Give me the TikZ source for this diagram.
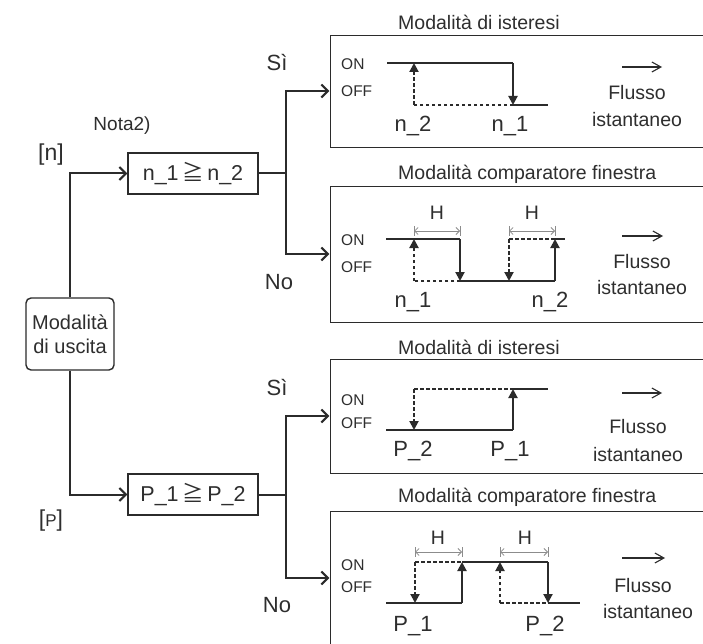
\documentclass[tikz,border=0pt]{standalone}
\usepackage{fontspec}
\setmainfont{Liberation Sans}
\newfontfamily\cjk{Noto Sans CJK JP}
\usetikzlibrary{arrows.meta}
\definecolor{ink}{HTML}{2B2B2B}
\definecolor{txt}{HTML}{2E2E2E}
\definecolor{dimc}{HTML}{8C8C8C}
\begin{document}
\begin{tikzpicture}[x=1pt,y=-1pt,
  flow/.style={draw=ink,line width=2pt},
  farrow/.style={-{Straight Barb[length=6.5pt,width=13pt,line width=2pt]}},
  panel/.style={draw=ink,line width=1.4pt,rectangle,inner sep=0pt,anchor=north west,minimum width=420pt},
  cond/.style={draw=ink,line width=1.4pt,rectangle,minimum width=130pt,minimum height=41pt,inner sep=0pt,text=txt,font=\fontsize{21.5}{24}\selectfont},
  modebox/.style={draw=ink,line width=1.4pt,rectangle,rounded corners=5pt,minimum width=88pt,minimum height=72pt,inner sep=0pt,align=center,text=txt,font=\fontsize{20}{23.5}\selectfont},
  sig/.style={draw=ink,line width=2pt},
  sigd/.style={sig,dash pattern=on 3.5pt off 2.5pt},
  tip/.style={-{Triangle[length=9pt,width=9pt]}},
  dimline/.style={draw=dimc,line width=0.8pt,{Straight Barb[length=3.5pt,width=7pt]}-{Straight Barb[length=3.5pt,width=7pt]}},
  tick/.style={draw=dimc,line width=0.8pt},
  flux/.style={draw=ink,line width=1.1pt,-{Straight Barb[length=9pt,width=10pt,line width=1.1pt]}},
  lbl/.style={inner sep=0pt,text=txt,font=\fontsize{22}{25}\selectfont},
  ttl/.style={inner sep=0pt,text=txt,anchor=west,font=\fontsize{19.5}{22}\selectfont},
  onoff/.style={inner sep=0pt,text=txt,anchor=west,font=\fontsize{15.5}{17}\selectfont},
  flab/.style={inner sep=0pt,text=txt,font=\fontsize{19.5}{22}\selectfont}
]
\useasboundingbox (0,0) rectangle (703,644);
\clip (0,0) rectangle (703,644);
\fill[white] (0,0) rectangle (703,644);

% panels
\node[panel,minimum height=112pt] (p1) at (330,35) {};
\node[panel,minimum height=136pt] (p2) at (330,186) {};
\node[panel,minimum height=114pt] (p3) at (330,359) {};
\node[panel,minimum height=160pt] (p4) at (330,511) {};

% titles
\node[ttl] (t1) at (398,22) {Modalità di isteresi};
\node[ttl] (t2) at (398,174) {Modalità comparatore finestra};
\node[ttl] (t3) at (398,347) {Modalità di isteresi};
\node[ttl] (t4) at (398,497) {Modalità comparatore finestra};

% flowchart
\node[modebox] (mode) at (70,334) {Modalità\\di uscita};
\node[cond] (nbox) at (193,173.5) {n\_1\,{\cjk ≧}\,n\_2};
\node[cond] (pbox) at (193,494.5) {P\_1\,{\cjk ≧}\,P\_2};
\coordinate (p1in) at (329.3,91);
\coordinate (p2in) at (329.3,254);
\coordinate (p3in) at (329.3,416);
\coordinate (p4in) at (329.3,578);
\draw[flow,farrow] (mode.north) |- (nbox.west);
\draw[flow,farrow] (mode.south) |- (pbox.west);
\draw[flow] (nbox.east) -- ++(27,0) coordinate (ns);
\draw[flow] (pbox.east) -- ++(27,0) coordinate (ps);
\draw[flow,farrow] (ns) |- (p1in);
\draw[flow,farrow] (ns) |- (p2in);
\draw[flow,farrow] (ps) |- (p3in);
\draw[flow,farrow] (ps) |- (p4in);

\node[lbl,font=\fontsize{19}{22}\selectfont] (nota) at (122,126) {Nota2)};
\node[lbl,font=\fontsize{23}{26}\selectfont] (lbn) at (51,155) {[n]};
\node[lbl,font=\fontsize{23}{26}\selectfont] (lbp) at (51,521) {[{\fontsize{17}{19}\selectfont P}]};
\node[lbl] (si1) at (277,63) {Sì};
\node[lbl] (no1) at (279,282) {No};
\node[lbl] (si2) at (277,388) {Sì};
\node[lbl] (no2) at (277,605) {No};

% ---- panel 1: hysteresis n
\node[onoff] (on1) at (341,64) {ON};
\node[onoff] (off1) at (341,91) {OFF};
\draw[sig] (387,63) -- (513,63);
\draw[sigd] (513,105) -- (414,105);
\draw[sigd,tip] (414,105) -- (414,63);
\draw[sig,tip] (513,63) -- (513,105);
\draw[sig] (513,105) -- (548,105);
\node[lbl] (a1) at (413,126) {n\_2};
\node[lbl] (b1) at (510,126) {n\_1};
\draw[flux] (622,67) -- (662,67);
\node[flab] (f1) at (637,93) {Flusso};
\node[flab] (i1) at (637,120) {istantaneo};

% ---- panel 2: window n
\node[onoff] (on2) at (341,240) {ON};
\node[onoff] (off2) at (341,267) {OFF};
\draw[sig] (386,239) -- (460,239);
\draw[sigd] (460,281) -- (414,281);
\draw[sigd,tip] (414,281) -- (414,239);
\draw[sig,tip] (460,239) -- (460,281);
\draw[sig] (460,281) -- (555,281);
\draw[sigd] (509,239) -- (555,239);
\draw[sigd,tip] (509,239) -- (509,281);
\draw[sig,tip] (555,281) -- (555,239);
\draw[sig] (555,239) -- (565,239);
\draw[tick] (414,226) -- (414,236);
\draw[tick] (460,226) -- (460,236);
\draw[dimline] (414,231) -- (460,231);
\draw[tick] (509,226) -- (509,236);
\draw[tick] (555,226) -- (555,236);
\draw[dimline] (509,231) -- (555,231);
\node[flab] (h1) at (437,213) {H};
\node[flab] (h2) at (532,213) {H};
\node[lbl] (a2) at (413,302) {n\_1};
\node[lbl] (b2) at (550,302) {n\_2};
\draw[flux] (622,236) -- (663,236);
\node[flab] (f2) at (642,262) {Flusso};
\node[flab] (i2) at (642,288) {istantaneo};

% ---- panel 3: hysteresis P
\node[onoff] (on3) at (341,400) {ON};
\node[onoff] (off3) at (341,423) {OFF};
\draw[sigd] (414,389) -- (513,389);
\draw[sig] (513,389) -- (548,389);
\draw[sigd,tip] (414,389) -- (414,430);
\draw[sig] (386,430) -- (513,430);
\draw[sig,tip] (513,430) -- (513,389);
\node[lbl] (a3) at (413,451) {P\_2};
\node[lbl] (b3) at (510,451) {P\_1};
\draw[flux] (622,393) -- (662,393);
\node[flab] (f3) at (638,427) {Flusso};
\node[flab] (i3) at (638,455) {istantaneo};

% ---- panel 4: window P
\node[onoff] (on4) at (341,565) {ON};
\node[onoff] (off4) at (341,587) {OFF};
\draw[sigd] (415,562) -- (462,562);
\draw[sig] (462,562) -- (548,562);
\draw[sigd,tip] (415,562) -- (415,603);
\draw[sig] (386,603) -- (462,603);
\draw[sig,tip] (462,603) -- (462,562);
\draw[sigd] (500,603) -- (548,603);
\draw[sigd,tip] (500,603) -- (500,562);
\draw[sig,tip] (548,562) -- (548,603);
\draw[sig] (548,603) -- (580,603);
\draw[tick] (415,547) -- (415,557);
\draw[tick] (462,547) -- (462,557);
\draw[dimline] (415,552) -- (462,552);
\draw[tick] (500,547) -- (500,557);
\draw[tick] (548,547) -- (548,557);
\draw[dimline] (500,552) -- (548,552);
\node[flab] (h3) at (438,538) {H};
\node[flab] (h4) at (525,538) {H};
\node[lbl] (a4) at (413,626) {P\_1};
\node[lbl] (b4) at (545,626) {P\_2};
\draw[flux] (622,558) -- (665,558);
\node[flab] (f4) at (643,586) {Flusso};
\node[flab] (i4) at (648,612) {istantaneo};
\end{tikzpicture}
\end{document}
